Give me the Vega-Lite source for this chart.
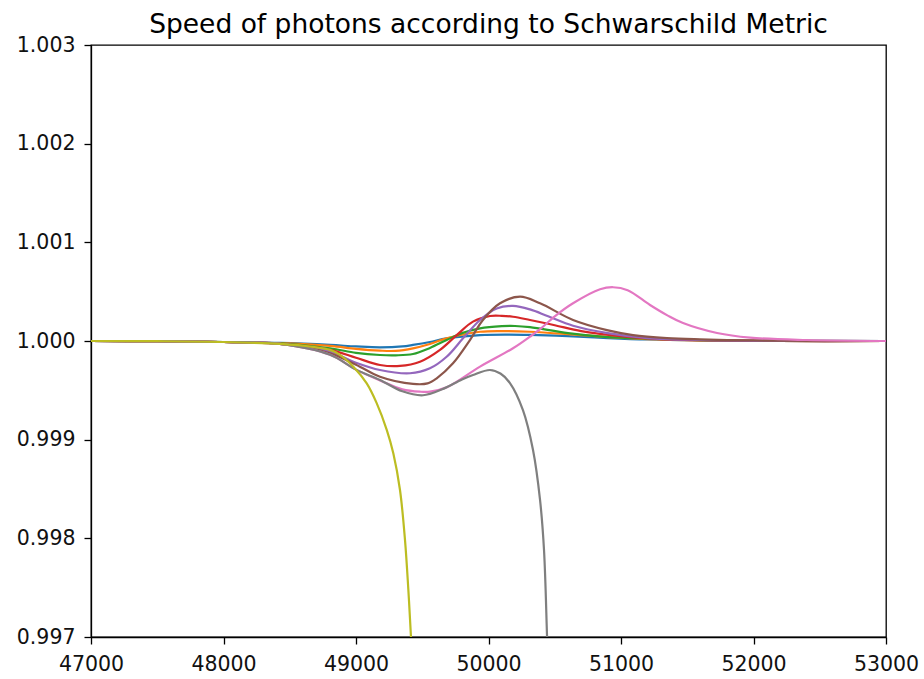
{
  "$schema": "https://vega.github.io/schema/vega-lite/v6.json",
  "width": 795,
  "height": 592,
  "autosize": {"type": "none"},
  "padding": {"left": 91, "top": 45, "right": 38, "bottom": 42},
  "background": "white",
  "title": {"text": "Speed of photons according to Schwarschild Metric", "font": "DejaVu Sans", "fontSize": 26.5, "fontWeight": "normal", "color": "black", "offset": 6, "baseline": "alphabetic", "dy": 30},
  "config": {
    "view": {"stroke": "black", "strokeWidth": 1.3},
    "axis": {"grid": false, "labelFont": "DejaVu Sans", "labelFontSize": 20.5, "labelColor": "#111", "tickColor": "black", "domainColor": "black", "tickSize": 7, "tickWidth": 1.3, "domainWidth": 1.3, "labelPadding": 7, "labelFlush": false, "labelOverlap": false, "labelBound": false, "title": null},
    "axisX": {"labelPadding": 10},
    "axisY": {"labelPadding": 9}
  },
  "data": {"values": [
    {"s":"a1","x":47000,"y":1.0},{"s":"a1","x":47500,"y":0.999998},{"s":"a1","x":48000,"y":0.99999},{"s":"a1","x":48426,"y":0.99998},{"s":"a1","x":48804,"y":0.99996},{"s":"a1","x":49000,"y":0.999945},{"s":"a1","x":49181,"y":0.999936},{"s":"a1","x":49350,"y":0.999945},{"s":"a1","x":49430,"y":0.99996},{"s":"a1","x":49558,"y":0.99999},{"s":"a1","x":49684,"y":1.000027},{"s":"a1","x":49936,"y":1.00006},{"s":"a1","x":50150,"y":1.000065},{"s":"a1","x":50313,"y":1.000062},{"s":"a1","x":50600,"y":1.00005},{"s":"a1","x":50900,"y":1.00003},{"s":"a1","x":51200,"y":1.000015},{"s":"a1","x":51600,"y":1.000006},{"s":"a1","x":52000,"y":1.000002},{"s":"a1","x":53000,"y":1.0},
    {"s":"a2","x":47000,"y":1.0},{"s":"a2","x":47500,"y":0.999998},{"s":"a2","x":48000,"y":0.99999},{"s":"a2","x":48426,"y":0.999978},{"s":"a2","x":48804,"y":0.99995},{"s":"a2","x":49000,"y":0.99992},{"s":"a2","x":49181,"y":0.999902},{"s":"a2","x":49300,"y":0.9999},{"s":"a2","x":49430,"y":0.999926},{"s":"a2","x":49558,"y":0.99997},{"s":"a2","x":49684,"y":1.000027},{"s":"a2","x":49936,"y":1.000094},{"s":"a2","x":50150,"y":1.0001},{"s":"a2","x":50313,"y":1.000094},{"s":"a2","x":50600,"y":1.00007},{"s":"a2","x":50900,"y":1.00004},{"s":"a2","x":51200,"y":1.00002},{"s":"a2","x":51600,"y":1.000007},{"s":"a2","x":52200,"y":1.0},{"s":"a2","x":53000,"y":1.0},
    {"s":"a3","x":47000,"y":1.0},{"s":"a3","x":47500,"y":0.999998},{"s":"a3","x":48000,"y":0.99999},{"s":"a3","x":48426,"y":0.999975},{"s":"a3","x":48804,"y":0.999926},{"s":"a3","x":49000,"y":0.99988},{"s":"a3","x":49181,"y":0.999858},{"s":"a3","x":49300,"y":0.999855},{"s":"a3","x":49430,"y":0.999868},{"s":"a3","x":49558,"y":0.99993},{"s":"a3","x":49684,"y":1.00001},{"s":"a3","x":49800,"y":1.00008},{"s":"a3","x":49936,"y":1.000128},{"s":"a3","x":50100,"y":1.00015},{"s":"a3","x":50200,"y":1.000152},{"s":"a3","x":50313,"y":1.00014},{"s":"a3","x":50600,"y":1.00008},{"s":"a3","x":50900,"y":1.00004},{"s":"a3","x":51200,"y":1.000025},{"s":"a3","x":51600,"y":1.000008},{"s":"a3","x":52200,"y":1.0},{"s":"a3","x":53000,"y":1.0},
    {"s":"a4","x":47000,"y":1.0},{"s":"a4","x":47500,"y":0.999998},{"s":"a4","x":48000,"y":0.99999},{"s":"a4","x":48426,"y":0.99997},{"s":"a4","x":48804,"y":0.99991},{"s":"a4","x":49000,"y":0.99983},{"s":"a4","x":49181,"y":0.999757},{"s":"a4","x":49332,"y":0.999747},{"s":"a4","x":49483,"y":0.99979},{"s":"a4","x":49634,"y":0.99991},{"s":"a4","x":49760,"y":1.00006},{"s":"a4","x":49883,"y":1.000196},{"s":"a4","x":50011,"y":1.000253},{"s":"a4","x":50100,"y":1.000255},{"s":"a4","x":50185,"y":1.000246},{"s":"a4","x":50313,"y":1.000213},{"s":"a4","x":50500,"y":1.00016},{"s":"a4","x":50700,"y":1.0001},{"s":"a4","x":50992,"y":1.00005},{"s":"a4","x":51300,"y":1.00002},{"s":"a4","x":51700,"y":1.000007},{"s":"a4","x":52200,"y":1.0},{"s":"a4","x":53000,"y":1.0},
    {"s":"a5","x":47000,"y":1.0},{"s":"a5","x":47500,"y":0.999998},{"s":"a5","x":48000,"y":0.99999},{"s":"a5","x":48426,"y":0.99997},{"s":"a5","x":48804,"y":0.99989},{"s":"a5","x":49000,"y":0.99978},{"s":"a5","x":49181,"y":0.999706},{"s":"a5","x":49408,"y":0.999673},{"s":"a5","x":49558,"y":0.999723},{"s":"a5","x":49684,"y":0.99984},{"s":"a5","x":49808,"y":1.000027},{"s":"a5","x":49936,"y":1.000213},{"s":"a5","x":50062,"y":1.00033},{"s":"a5","x":50185,"y":1.000355},{"s":"a5","x":50313,"y":1.00032},{"s":"a5","x":50450,"y":1.00025},{"s":"a5","x":50638,"y":1.000155},{"s":"a5","x":50900,"y":1.00008},{"s":"a5","x":51200,"y":1.00003},{"s":"a5","x":51600,"y":1.00001},{"s":"a5","x":52200,"y":1.0},{"s":"a5","x":53000,"y":1.0},
    {"s":"a6","x":47000,"y":1.0},{"s":"a6","x":47500,"y":0.999998},{"s":"a6","x":48000,"y":0.99999},{"s":"a6","x":48426,"y":0.99997},{"s":"a6","x":48804,"y":0.999875},{"s":"a6","x":49000,"y":0.99976},{"s":"a6","x":49181,"y":0.999638},{"s":"a6","x":49430,"y":0.999565},{"s":"a6","x":49540,"y":0.99957},{"s":"a6","x":49609,"y":0.999622},{"s":"a6","x":49732,"y":0.999774},{"s":"a6","x":49860,"y":1.00001},{"s":"a6","x":49958,"y":1.000213},{"s":"a6","x":50087,"y":1.000382},{"s":"a6","x":50238,"y":1.000449},{"s":"a6","x":50389,"y":1.000382},{"s":"a6","x":50638,"y":1.000213},{"s":"a6","x":50894,"y":1.00011},{"s":"a6","x":51091,"y":1.00006},{"s":"a6","x":51347,"y":1.00003},{"s":"a6","x":51596,"y":1.000017},{"s":"a6","x":52000,"y":1.000005},{"s":"a6","x":53000,"y":1.0},
    {"s":"a7","x":47000,"y":1.0},{"s":"a7","x":47500,"y":0.999998},{"s":"a7","x":48000,"y":0.99999},{"s":"a7","x":48426,"y":0.99997},{"s":"a7","x":48804,"y":0.99986},{"s":"a7","x":49000,"y":0.99971},{"s":"a7","x":49181,"y":0.9996},{"s":"a7","x":49350,"y":0.99951},{"s":"a7","x":49483,"y":0.999486},{"s":"a7","x":49558,"y":0.999486},{"s":"a7","x":49684,"y":0.99953},{"s":"a7","x":49936,"y":0.99974},{"s":"a7","x":50185,"y":0.999926},{"s":"a7","x":50313,"y":1.000044},{"s":"a7","x":50389,"y":1.00012},{"s":"a7","x":50500,"y":1.00025},{"s":"a7","x":50638,"y":1.000382},{"s":"a7","x":50842,"y":1.000524},{"s":"a7","x":50940,"y":1.000545},{"s":"a7","x":51050,"y":1.000515},{"s":"a7","x":51219,"y":1.000365},{"s":"a7","x":51350,"y":1.00026},{"s":"a7","x":51468,"y":1.000182},{"s":"a7","x":51725,"y":1.000081},{"s":"a7","x":51974,"y":1.000034},{"s":"a7","x":52400,"y":1.00001},{"s":"a7","x":53000,"y":1.0},
    {"s":"a8","x":47000,"y":1.0},{"s":"a8","x":47500,"y":0.999998},{"s":"a8","x":48000,"y":0.99999},{"s":"a8","x":48426,"y":0.99997},{"s":"a8","x":48804,"y":0.99986},{"s":"a8","x":49000,"y":0.99971},{"s":"a8","x":49181,"y":0.999605},{"s":"a8","x":49350,"y":0.99949},{"s":"a8","x":49506,"y":0.99945},{"s":"a8","x":49650,"y":0.99951},{"s":"a8","x":49800,"y":0.99961},{"s":"a8","x":49883,"y":0.999655},{"s":"a8","x":50011,"y":0.999706},{"s":"a8","x":50090,"y":0.99967},{"s":"a8","x":50162,"y":0.999574},{"s":"a8","x":50260,"y":0.9993},{"s":"a8","x":50336,"y":0.998895},{"s":"a8","x":50389,"y":0.998389},{"s":"a8","x":50419,"y":0.99788},{"s":"a8","x":50442,"y":0.997},{"s":"a8","x":50452,"y":0.9966},
    {"s":"a9","x":47000,"y":1.0},{"s":"a9","x":47500,"y":0.999998},{"s":"a9","x":48000,"y":0.99999},{"s":"a9","x":48426,"y":0.99997},{"s":"a9","x":48675,"y":0.99994},{"s":"a9","x":48804,"y":0.99991},{"s":"a9","x":48879,"y":0.99986},{"s":"a9","x":48980,"y":0.99974},{"s":"a9","x":49081,"y":0.99957},{"s":"a9","x":49156,"y":0.99937},{"s":"a9","x":49232,"y":0.9991},{"s":"a9","x":49282,"y":0.99886},{"s":"a9","x":49332,"y":0.99849},{"s":"a9","x":49370,"y":0.99798},{"s":"a9","x":49395,"y":0.99748},{"s":"a9","x":49415,"y":0.997},{"s":"a9","x":49430,"y":0.9966}
  ]},
  "mark": {"type": "line", "clip": true, "strokeWidth": 2.2, "interpolate": "catmull-rom"},
  "encoding": {
    "x": {"field": "x", "type": "quantitative", "scale": {"domain": [47000, 53000], "nice": false, "zero": false}, "axis": {"values": [47000, 48000, 49000, 50000, 51000, 52000, 53000], "format": "d"}},
    "y": {"field": "y", "type": "quantitative", "scale": {"domain": [0.997, 1.003], "nice": false, "zero": false}, "axis": {"values": [0.997, 0.998, 0.999, 1.0, 1.001, 1.002, 1.003], "format": ".3f"}},
    "color": {"field": "s", "type": "nominal", "legend": null, "scale": {"domain": ["a1","a2","a3","a4","a5","a6","a7","a8","a9"], "range": ["#1f77b4","#ff7f0e","#2ca02c","#d62728","#9467bd","#8c564b","#e377c2","#7f7f7f","#bcbd22"]}}
  }
}
